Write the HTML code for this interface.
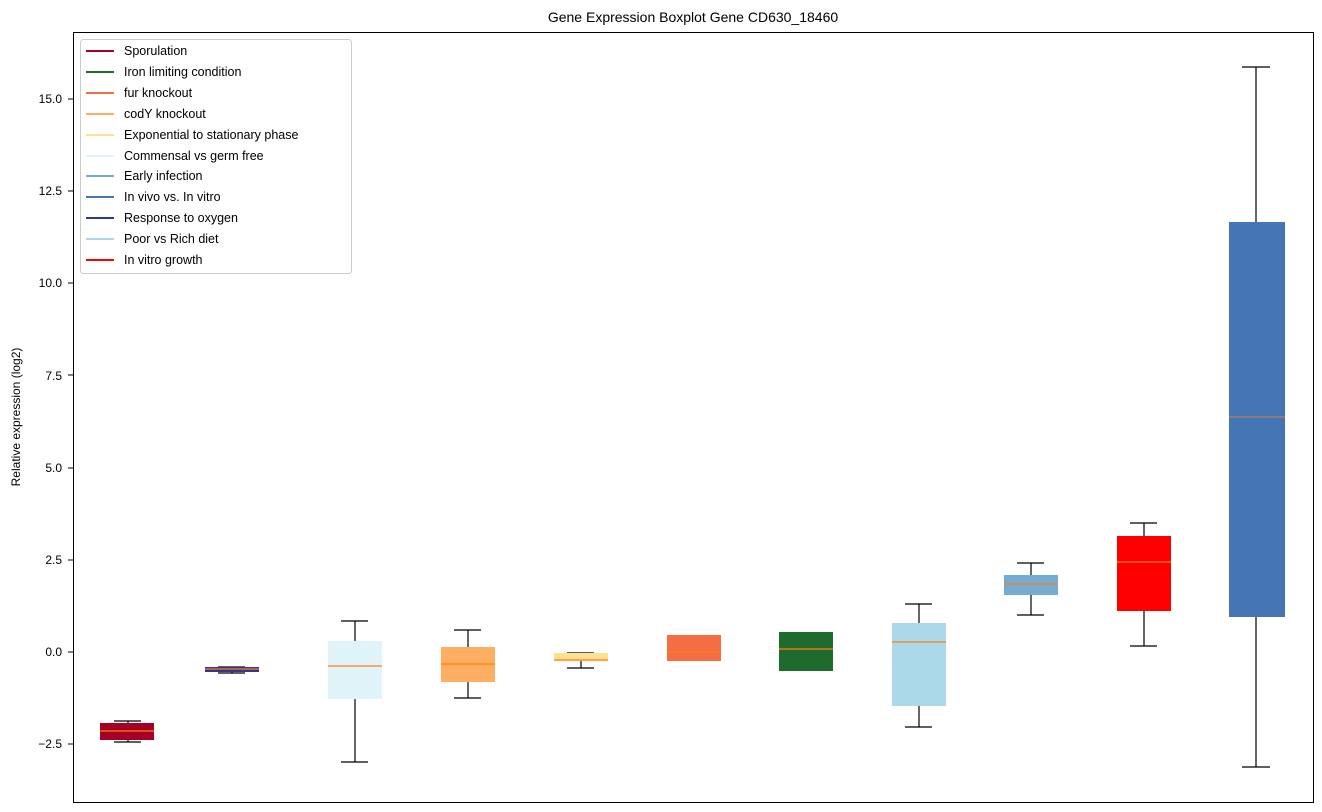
<!DOCTYPE html>
<html><head><style>body{margin:0;background:#fff}svg{display:block;font-family:"Liberation Sans",sans-serif}</style></head><body>
<svg width="1322" height="812" xmlns="http://www.w3.org/2000/svg">
<text x="693" y="22" font-size="14" text-anchor="middle">Gene Expression Boxplot Gene CD630_18460</text>
<g font-size="12" text-anchor="end">
<text x="62" y="748">−2.5</text><text x="62" y="656">0.0</text><text x="62" y="564">2.5</text><text x="62" y="472">5.0</text><text x="62" y="380">7.5</text><text x="62" y="287">10.0</text><text x="62" y="195">12.5</text><text x="62" y="103">15.0</text>
</g>
<g stroke="#000"><line x1="68" x2="73" y1="744" y2="744"/><line x1="68" x2="73" y1="652" y2="652"/><line x1="68" x2="73" y1="560" y2="560"/><line x1="68" x2="73" y1="468" y2="468"/><line x1="68" x2="73" y1="375" y2="375"/><line x1="68" x2="73" y1="283" y2="283"/><line x1="68" x2="73" y1="191" y2="191"/><line x1="68" x2="73" y1="99" y2="99"/></g>
<text transform="translate(20,417) rotate(-90)" font-size="12" text-anchor="middle">Relative expression (log2)</text>
<g stroke="#000" stroke-width="1.2">
<line x1="128" x2="128" y1="721" y2="742"/><line x1="114" x2="141" y1="721" y2="721"/><line x1="114" x2="141" y1="742" y2="742"/>
<line x1="232" x2="232" y1="667" y2="673"/><line x1="218" x2="245" y1="667" y2="667"/><line x1="218" x2="245" y1="673" y2="673"/>
<line x1="355" x2="355" y1="621" y2="762"/><line x1="341" x2="368" y1="621" y2="621"/><line x1="341" x2="368" y1="762" y2="762"/>
<line x1="468" x2="468" y1="630" y2="698"/><line x1="454" x2="481" y1="630" y2="630"/><line x1="454" x2="481" y1="698" y2="698"/>
<line x1="581" x2="581" y1="653" y2="668"/><line x1="567" x2="594" y1="653" y2="653"/><line x1="567" x2="594" y1="668" y2="668"/>
<line x1="919" x2="919" y1="604" y2="727"/><line x1="905" x2="932" y1="604" y2="604"/><line x1="905" x2="932" y1="727" y2="727"/>
<line x1="1031" x2="1031" y1="563" y2="615"/><line x1="1017" x2="1044" y1="563" y2="563"/><line x1="1017" x2="1044" y1="615" y2="615"/>
<line x1="1144" x2="1144" y1="523" y2="646"/><line x1="1130" x2="1157" y1="523" y2="523"/><line x1="1130" x2="1157" y1="646" y2="646"/>
<line x1="1256" x2="1256" y1="67" y2="767"/><line x1="1242" x2="1270" y1="67" y2="67"/><line x1="1242" x2="1270" y1="767" y2="767"/>
</g>
<rect x="100" y="723" width="54" height="17" fill="#a50026"/>
<rect x="205" y="667" width="54" height="5" fill="#313695"/>
<rect x="328" y="641" width="54" height="58" fill="#e0f3f8"/>
<rect x="441" y="647" width="54" height="35" fill="#fdae61"/>
<rect x="554" y="653" width="54" height="8" fill="#fee090"/>
<rect x="667" y="635" width="54" height="26" fill="#f46d43"/>
<rect x="779" y="632" width="54" height="39" fill="#1f6b2e"/>
<rect x="892" y="623" width="54" height="83" fill="#abd9e9"/>
<rect x="1004" y="575" width="54" height="20" fill="#74add1"/>
<rect x="1117" y="536" width="54" height="75" fill="#ff0000"/>
<rect x="1229" y="222" width="56" height="395" fill="#4575b4"/>
<g stroke="#ff7f0e" stroke-width="1.2">
<line x1="100" x2="154" y1="731" y2="731"/><line x1="205" x2="259" y1="669" y2="669"/><line x1="328" x2="382" y1="666" y2="666"/><line x1="441" x2="495" y1="664" y2="664"/><line x1="554" x2="608" y1="660" y2="660"/><line x1="667" x2="721" y1="652" y2="652"/><line x1="779" x2="833" y1="649" y2="649"/><line x1="892" x2="946" y1="642" y2="642"/><line x1="1004" x2="1058" y1="584" y2="584"/><line x1="1117" x2="1171" y1="562" y2="562"/><line x1="1229" x2="1285" y1="417" y2="417" stroke="#b08060"/>
</g>
<rect x="73.5" y="32.5" width="1240" height="770" fill="none" stroke="#000"/>
<rect x="80.5" y="39.5" width="271" height="234" rx="3" fill="#fff" stroke="#ccc"/>
<g font-size="12.5" stroke-width="2">
<line x1="86" x2="114" y1="51" y2="51" stroke="#a50026"/><text x="124" y="55">Sporulation</text>
<line x1="86" x2="114" y1="72" y2="72" stroke="#1f6b2e"/><text x="124" y="76">Iron limiting condition</text>
<line x1="86" x2="114" y1="93" y2="93" stroke="#f46d43"/><text x="124" y="97">fur knockout</text>
<line x1="86" x2="114" y1="114" y2="114" stroke="#fdae61"/><text x="124" y="118">codY knockout</text>
<line x1="86" x2="114" y1="135" y2="135" stroke="#fee090"/><text x="124" y="139">Exponential to stationary phase</text>
<line x1="86" x2="114" y1="156" y2="156" stroke="#e0f3f8"/><text x="124" y="160">Commensal vs germ free</text>
<line x1="86" x2="114" y1="176" y2="176" stroke="#74add1"/><text x="124" y="180">Early infection</text>
<line x1="86" x2="114" y1="197" y2="197" stroke="#4575b4"/><text x="124" y="201">In vivo vs. In vitro</text>
<line x1="86" x2="114" y1="218" y2="218" stroke="#313695"/><text x="124" y="222">Response to oxygen</text>
<line x1="86" x2="114" y1="239" y2="239" stroke="#abd9e9"/><text x="124" y="243">Poor vs Rich diet</text>
<line x1="86" x2="114" y1="260" y2="260" stroke="#ff0000"/><text x="124" y="264">In vitro growth</text>
</g>
</svg>
</body></html>
